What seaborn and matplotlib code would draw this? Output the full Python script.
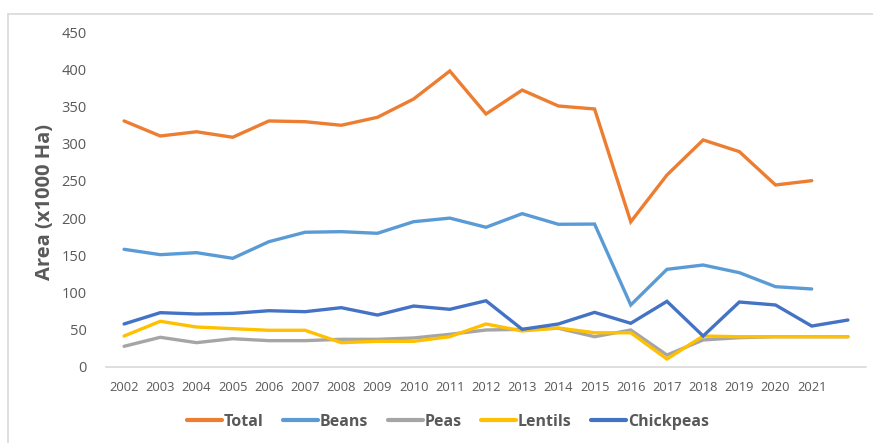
import matplotlib
matplotlib.use("Agg")
import matplotlib.pyplot as plt
from matplotlib.lines import Line2D
import numpy as np
import pandas as pd
import seaborn as sns

# Harvested area of pulses, thousand hectares
years = list(range(2002, 2023))
tick_years = list(range(2002, 2022))

total = [330.5, 310.3, 316.0, 308.6, 330.5, 329.5, 324.7, 335.4, 360.0, 397.6,
         339.9, 372.0, 350.6, 346.6, 195.0, 257.9, 305.0, 289.3, 244.5, 250.3, np.nan]
beans = [158.1, 150.9, 153.6, 146.0, 168.3, 181.0, 181.8, 179.6, 195.2, 200.0,
         187.7, 206.0, 191.7, 192.0, 83.3, 131.2, 137.0, 126.7, 107.9, 104.8, np.nan]
peas = [27.8, 39.9, 32.7, 38.0, 35.4, 35.4, 37.2, 37.2, 39.0, 43.9,
        49.7, 50.6, 52.0, 40.7, 49.7, 16.1, 36.3, 39.4, 40.7, 40.7, 40.7]
lentils = [41.6, 61.4, 53.7, 51.5, 49.3, 49.3, 32.7, 34.5, 34.5, 40.7,
           57.8, 48.4, 52.4, 46.0, 46.0, 10.7, 41.6, 40.7, 40.7, 40.7, 40.7]
chickpeas = [57.8, 73.0, 71.2, 72.0, 75.6, 74.3, 79.7, 69.8, 81.9, 77.5,
             89.0, 50.6, 57.8, 73.4, 58.7, 88.2, 41.6, 87.3, 83.3, 55.0, 63.1]

series_names = ["Total", "Beans", "Peas", "Lentils", "Chickpeas"]
series_values = [total, beans, peas, lentils, chickpeas]
colors = ["#ED7D31", "#5B9BD5", "#A5A5A5", "#FFC000", "#4472C4"]

df = pd.concat(
    [pd.DataFrame({"Year": years, "Area": vals, "Crop": name})
     for name, vals in zip(series_names, series_values)],
    ignore_index=True,
).dropna()

sns.set_theme(style="white")
plt.rcParams["font.family"] = ["Open Sans", "DejaVu Sans"]

W, H = 873, 443
fig = plt.figure(figsize=(W / 100, H / 100), dpi=100)
ax = fig.add_axes([106 / W, (H - 367) / H, (866 - 106) / W, (367 - 32) / H])

sns.lineplot(data=df, x="Year", y="Area", hue="Crop", hue_order=series_names,
             palette=colors, linewidth=2.4, ax=ax, legend=False,
             solid_capstyle="round", solid_joinstyle="miter")

ax.set_xlim(2001.5, 2022.5)
ax.set_ylim(0, 450)
ax.set_yticks(range(0, 451, 50))
ax.set_xticks(tick_years)
ax.set_xticklabels([str(y) for y in tick_years])

text_col = "#595959"
ax.tick_params(axis="x", length=0, pad=10, labelsize=9.3, labelcolor=text_col)
ax.tick_params(axis="y", length=0, pad=14, labelsize=10.5, labelcolor=text_col)
for s in ["top", "right", "left"]:
    ax.spines[s].set_visible(False)
ax.spines["bottom"].set_color("#d9d9d9")
ax.spines["bottom"].set_linewidth(1.2)
ax.grid(False)

ax.set_xlabel("")
ax.set_ylabel("")
fig.text(45 / W, 1 - 202 / H, "Area (x1000 Ha)", rotation=90, ha="center",
         va="center", fontsize=14.5, fontweight="bold", color=text_col)

handles = [Line2D([], [], color=c, linewidth=3) for c in colors]
fig.legend(handles, series_names, loc="center", bbox_to_anchor=(448 / W, 1 - 422 / H),
           ncol=5, frameon=False, handlelength=2.2, handletextpad=0.12,
           columnspacing=1.2, prop={"weight": "bold", "size": 11.5},
           labelcolor=text_col)

# chart-area border (top and left edges)
border = "#d9d9d9"
fig.add_artist(Line2D([8 / W, 1.0], [1 - 14 / H, 1 - 14 / H], color=border, lw=1.2,
                      transform=fig.transFigure))
fig.add_artist(Line2D([8 / W, 8 / W], [0.0, 1 - 14 / H], color=border, lw=1.2,
                      transform=fig.transFigure))

fig.savefig("out.png", dpi=100, facecolor="white")
